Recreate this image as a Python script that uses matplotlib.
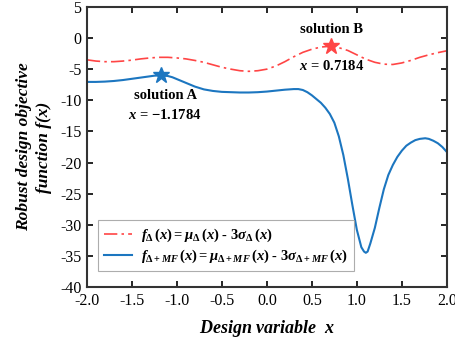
import matplotlib
matplotlib.use("Agg")
import matplotlib.pyplot as plt

plt.rcParams['font.family'] = 'Liberation Serif'
plt.rcParams['mathtext.fontset'] = 'custom'
plt.rcParams['mathtext.rm'] = 'Liberation Serif:bold'
plt.rcParams['mathtext.it'] = 'Liberation Serif:italic:bold'
plt.rcParams['mathtext.bf'] = 'Liberation Serif:bold'

# values
x_red = [-2.0, -1.9, -1.8, -1.7, -1.6, -1.5, -1.4, -1.3, -1.2, -1.1, -1.0,
         -0.9, -0.8, -0.7, -0.6, -0.5, -0.4, -0.3, -0.2, -0.1, 0.0,
         0.1, 0.2, 0.3, 0.4, 0.5, 0.6, 0.7184, 0.8, 0.9, 1.0,
         1.1, 1.2, 1.3, 1.4, 1.5, 1.6, 1.7, 1.8, 1.9, 2.0]
f_delta = [-3.5, -3.7, -3.8, -3.8, -3.7, -3.55, -3.35, -3.2, -3.1, -3.1, -3.2,
           -3.35, -3.6, -3.9, -4.3, -4.7, -5.0, -5.25, -5.35, -5.25, -5.0,
           -4.5, -3.8, -3.0, -2.3, -1.8, -1.45, -1.3, -1.55, -2.0, -2.7,
           -3.4, -3.9, -4.2, -4.25, -4.0, -3.6, -3.1, -2.7, -2.35, -2.05]

x_blue = [-2.0, -1.9, -1.8, -1.7, -1.6, -1.5, -1.4, -1.3, -1.25, -1.1784, -1.1,
          -1.05, -1.0, -0.9, -0.8, -0.7, -0.6, -0.5, -0.4, -0.3, -0.2, -0.1, 0.0,
          0.1, 0.2, 0.3, 0.35, 0.4, 0.45, 0.5, 0.55, 0.6, 0.65, 0.7,
          0.75, 0.8, 0.85, 0.9, 0.95, 1.0, 1.05, 1.08, 1.1, 1.12, 1.15, 1.2,
          1.25, 1.3, 1.35, 1.4, 1.45, 1.5, 1.55, 1.6, 1.65, 1.7, 1.76,
          1.8, 1.85, 1.9, 1.95, 2.0]
f_delta_mf = [-7.05, -7.05, -7.0, -6.9, -6.75, -6.55, -6.35, -6.15, -6.05, -6.0, -6.1,
              -6.3, -6.6, -7.2, -7.8, -8.25, -8.5, -8.65, -8.7, -8.75, -8.75, -8.7, -8.6,
              -8.45, -8.3, -8.2, -8.2, -8.35, -8.7, -9.2, -9.8, -10.4, -11.2, -12.2,
              -13.6, -15.8, -18.8, -22.6, -26.8, -30.8, -33.6, -34.3, -34.5, -34.3, -33.0, -30.5,
              -27.3, -24.3, -22.0, -20.4, -19.1, -18.1, -17.3, -16.8, -16.4, -16.2, -16.1,
              -16.2, -16.5, -16.9, -17.5, -18.3]

sol_a = (-1.1784, -6.0)
sol_b = (0.7184, -1.3)

red = '#ff4545'
blue = '#1c76c0'

fig = plt.figure(figsize=(4.55, 3.45), dpi=100)
ax = fig.add_axes([0.191, 0.168, 0.791, 0.812])

ax.plot(x_red, f_delta, color=red, lw=1.2, ls=(0, (8, 2.5, 1.5, 2.5)),
        label=r'$f_{\Delta}\,(x) = \mu_{\Delta}\,(x)$ - $3\sigma_{\Delta}\,(x)$')
ax.plot(x_blue, f_delta_mf, color=blue, lw=1.5,
        label=r'$f_{\Delta+MF}\,(x) = \mu_{\Delta+MF}\,(x)$ - $3\sigma_{\Delta+MF}\,(x)$')
ax.plot(*sol_a, marker='*', color=blue, ms=12, ls='none')
ax.plot(*sol_b, marker='*', color=red, ms=12, ls='none')

ax.text(-1.13, -9.2, 'solution A', ha='center', va='center', fontsize=10.5, fontweight='bold')
ax.text(-1.13, -12.4, r'$x$ = −1.1784', ha='center', va='center', fontsize=10.5, fontweight='bold')
ax.text(0.72, 1.3, 'solution B', ha='center', va='center', fontsize=10.5, fontweight='bold')
ax.text(0.72, -4.5, r'$x$ = 0.7184', ha='center', va='center', fontsize=10.5, fontweight='bold')

ax.set_xlim(-2.0, 2.0)
ax.set_ylim(-40, 5)
ax.set_xticks([-2.0, -1.5, -1.0, -0.5, 0.0, 0.5, 1.0, 1.5, 2.0])
ax.set_yticks(range(-40, 6, 5))
ax.set_xticklabels(['-2.0', '-1.5', '-1.0', '-0.5', '0.0', '0.5', '1.0', '1.5', '2.0'])
ax.set_yticklabels([str(v) for v in range(-40, 6, 5)])
ax.tick_params(direction='in', top=True, right=True, length=4, width=1.2,
               labelsize=11.5, pad=4)
for s in ax.spines.values():
    s.set_linewidth(1.5)
    s.set_color('#333333')

ax.set_xlabel('Design variable  $x$', fontsize=13, fontweight='bold', style='italic', labelpad=7)
ax.set_ylabel('Robust design objective\nfunction f(x)', fontsize=12.5, fontweight='bold',
              style='italic', labelpad=6, linespacing=1.3)

leg = ax.legend(loc='lower left', bbox_to_anchor=(0.01, 0.03), fontsize=10.5,
                handlelength=1.9, fancybox=False, edgecolor='#999999',
                borderpad=0.45, labelspacing=0.25, handletextpad=0.6)
leg.get_frame().set_linewidth(0.8)

fig.savefig('out.png', dpi=100)
